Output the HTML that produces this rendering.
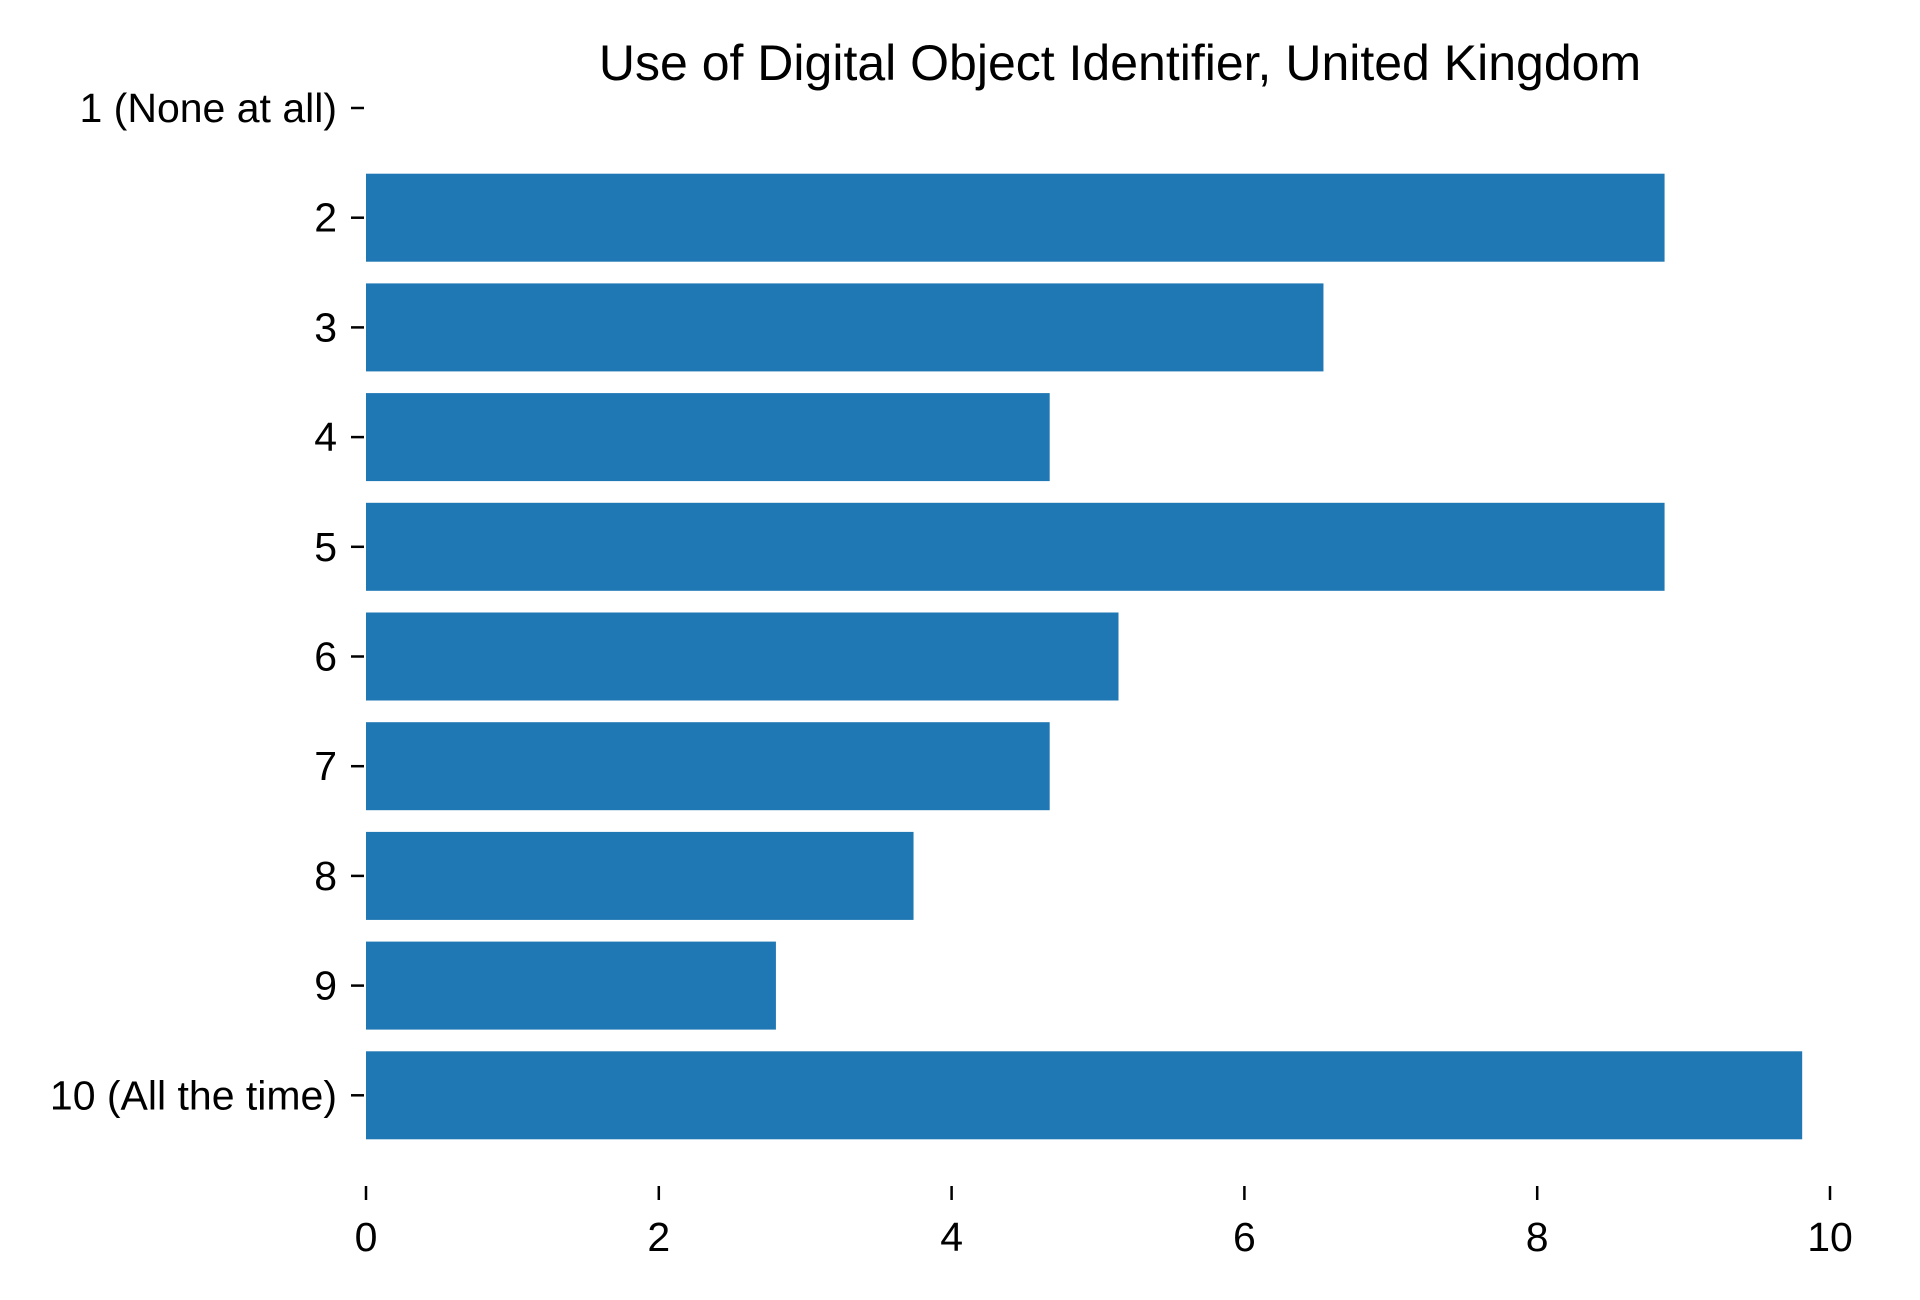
<!DOCTYPE html>
<html><head><meta charset="utf-8"><style>
html,body{margin:0;padding:0;background:#fff;}
svg{display:block;font-family:"Liberation Sans",Arial,sans-serif;}
</style></head><body>
<svg id="chart" width="1920" height="1300" viewBox="0 0 1920 1300">
<text x="1120" y="80" font-size="50" text-anchor="middle" fill="#000">Use of Digital Object Identifier, United Kingdom</text>
<g id="bars"></g><g id="yaxis"></g><g id="xaxis"></g>
</svg>
<script>
const categories = ["1 (None at all)","2","3","4","5","6","7","8","9","10 (All the time)"];
const values = [0, 8.87, 6.54, 4.67, 8.87, 5.14, 4.67, 3.74, 2.80, 9.81];
const xTicks = [0, 2, 4, 6, 8, 10];
const NS = "http://www.w3.org/2000/svg";
const x0 = 366, x1 = 1830, xMax = 10;
const xs = v => x0 + (v / xMax) * (x1 - x0);
const yc = i => 108 + i * 109.7;
const bh = 88;
function mk(tag, attrs, parent){const e=document.createElementNS(NS,tag);for(const k in attrs)e.setAttribute(k,attrs[k]);parent.appendChild(e);return e;}
const gb=document.getElementById('bars'), gy=document.getElementById('yaxis'), gx=document.getElementById('xaxis');
categories.forEach((c,i)=>{
  if(values[i]>0){
    const r=mk('rect',{x:xs(0),y:yc(i)-bh/2,width:xs(values[i])-xs(0),height:bh,fill:'#1f77b4'},gb);
    
    
  }
  const t=mk('line',{x1:x0-15,x2:x0-2,y1:yc(i),y2:yc(i),stroke:'#000','stroke-width':2.5},gy);
  
  
  const l=mk('text',{x:x0-29,y:yc(i)+14,'font-size':41,'text-anchor':'end',fill:'#000'},gy);
  l.textContent=c;
  
  
});
xTicks.forEach(v=>{
  const t=mk('line',{x1:xs(v),x2:xs(v),y1:1186,y2:1200,stroke:'#000','stroke-width':2.5},gx);
  
  
  const l=mk('text',{x:xs(v),y:1251,'font-size':41,'text-anchor':'middle',fill:'#000'},gx);
  l.textContent=v;
  
  
});
</script>
</body></html>
